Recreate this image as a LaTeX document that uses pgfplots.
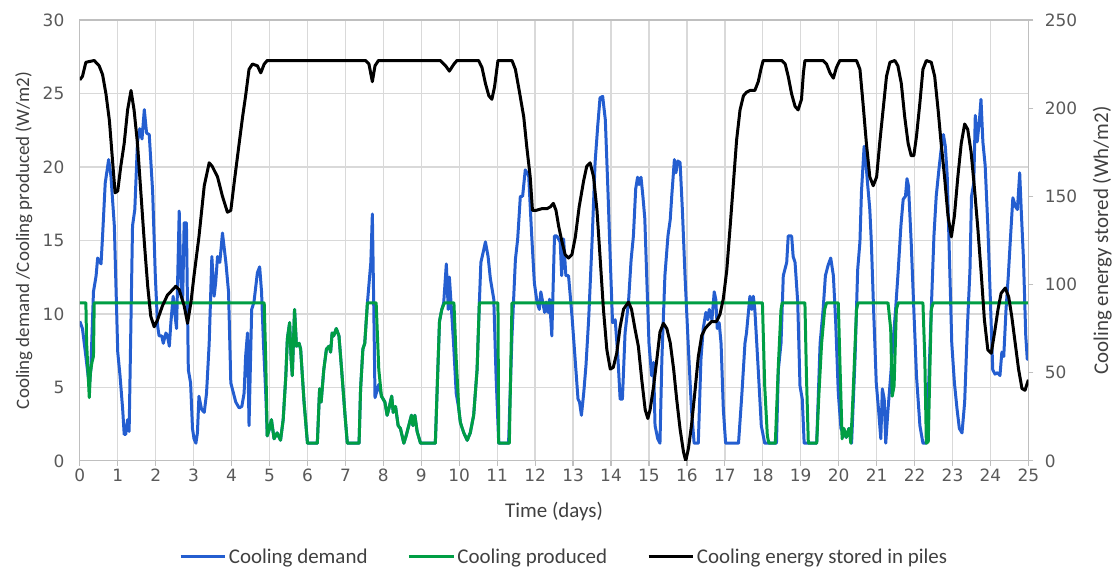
\documentclass[border=0pt]{standalone}
\usepackage{pgfplots}
\pgfplotsset{compat=1.18}
\usepackage{pgfplotstable}
\usepackage{fontspec}
\setmainfont{Carlito}
\newfontfamily\tickfont{DejaVu Sans}
\definecolor{dblue}{RGB}{36,94,208}
\definecolor{dgreen}{RGB}{0,158,68}
\definecolor{gridgray}{RGB}{217,217,217}
\definecolor{axgray}{RGB}{191,191,191}
\definecolor{txtgray}{RGB}{89,89,89}
\definecolor{lblgray}{RGB}{64,64,64}

\pgfplotstableread{
d v
0 9.5
0.07 9.0
0.16 7.1
0.25 5.1
0.29 6.2
0.36 11.5
0.43 12.6
0.47 13.8
0.56 13.4
0.60 15.3
0.67 18.9
0.76 20.5
0.82 19.4
0.91 16.0
1.00 7.4
1.06 5.8
1.13 3.5
1.17 1.8
1.21 1.8
1.26 2.8
1.30 2.0
1.39 16.0
1.45 17.1
1.52 21.7
1.58 22.6
1.64 21.9
1.70 23.9
1.76 22.3
1.83 22.2
1.92 18.3
1.99 12.6
2.05 9.2
2.09 8.5
2.16 8.5
2.20 8.0
2.27 8.7
2.31 8.5
2.36 7.8
2.40 9.4
2.46 11.2
2.51 9.9
2.55 9.0
2.62 17.0
2.66 12.6
2.71 10.8
2.75 16.2
2.81 16.2
2.86 6.2
2.92 5.3
2.97 2.2
3.01 1.5
3.06 1.2
3.10 1.9
3.14 4.4
3.21 3.5
3.28 3.3
3.34 4.6
3.41 8.0
3.48 13.9
3.54 11.2
3.58 12.1
3.63 13.9
3.69 13.5
3.76 15.5
3.85 13.5
3.92 11.5
3.98 5.3
4.02 4.9
4.11 4.0
4.20 3.6
4.27 3.7
4.33 4.6
4.37 7.1
4.42 8.7
4.46 2.4
4.53 10.3
4.59 10.8
4.68 12.8
4.74 13.2
4.79 11.5
4.84 8.0
4.90 4.6
4.94 1.7
5.00 2.2
5.05 2.8
5.12 1.5
5.20 1.9
5.29 1.4
5.36 2.8
5.43 5.8
5.47 8.3
5.53 9.4
5.57 6.9
5.60 5.8
5.66 10.3
5.71 7.8
5.78 8.0
5.82 7.6
5.91 4.0
6.00 1.2
6.26 1.2
6.32 4.9
6.36 4.0
6.43 6.2
6.50 7.6
6.57 7.8
6.61 7.4
6.65 8.7
6.69 8.5
6.76 9.0
6.83 8.5
6.90 6.2
6.99 3.1
7.05 1.2
7.36 1.2
7.40 4.9
7.46 7.6
7.51 8.0
7.58 10.75
7.62 12.0
7.67 13.5
7.71 16.8
7.75 10.0
7.78 4.3
7.88 5.2
7.95 4.4
8.04 4.0
8.10 3.1
8.16 3.7
8.22 4.4
8.26 3.3
8.32 3.7
8.39 2.4
8.45 2.2
8.54 1.2
8.60 1.7
8.69 2.6
8.74 3.1
8.78 2.4
8.83 3.1
8.89 2.0
8.98 1.2
9.37 1.2
9.43 5.8
9.48 9.5
9.54 10.3
9.59 10.75
9.66 13.4
9.71 10.3
9.74 12.5
9.79 10.5
9.85 8.0
9.92 4.6
9.99 3.5
10.03 2.6
10.12 1.9
10.21 1.4
10.29 1.9
10.38 3.1
10.47 6.2
10.53 10.75
10.57 13.5
10.64 14.3
10.69 14.9
10.76 13.9
10.82 12.4
10.91 11.0
10.97 5.8
11.04 1.2
11.30 1.2
11.39 8.5
11.48 13.7
11.54 15.1
11.61 18.0
11.67 18.0
11.74 19.8
11.83 19.4
11.91 15.3
11.98 12.1
12.05 10.8
12.11 10.3
12.15 11.5
12.20 10.8
12.25 10.1
12.29 10.8
12.34 10.1
12.38 11.0
12.44 8.5
12.51 15.3
12.57 15.3
12.66 14.9
12.70 12.6
12.75 15.1
12.81 12.6
12.88 12.6
12.97 9.9
13.06 6.7
13.13 4.2
13.17 4.0
13.22 3.1
13.28 4.6
13.34 6.5
13.41 9.6
13.50 14.9
13.58 20.3
13.65 22.8
13.71 24.7
13.78 24.8
13.85 23.2
13.92 18.3
13.98 13.7
14.04 9.4
14.11 9.6
14.18 7.1
14.24 4.2
14.30 4.2
14.37 8.7
14.46 10.8
14.53 13.7
14.59 15.3
14.65 18.5
14.70 19.3
14.74 18.8
14.79 19.3
14.84 18.0
14.89 16.5
14.94 12.6
15.00 8.0
15.07 5.8
15.12 6.7
15.16 2.4
15.23 1.5
15.29 1.2
15.34 6.9
15.42 12.6
15.50 15.3
15.56 16.4
15.60 18.0
15.67 20.5
15.71 19.6
15.76 20.4
15.82 20.3
15.88 17.1
15.95 12.6
16.04 7.6
16.12 3.5
16.19 1.2
16.30 1.2
16.37 6.9
16.43 9.0
16.50 10.1
16.55 9.6
16.59 10.3
16.66 9.6
16.72 11.5
16.76 11.0
16.80 9.0
16.85 9.4
16.90 8.0
16.96 3.5
17.02 1.2
17.36 1.2
17.45 4.6
17.53 8.0
17.57 8.7
17.66 11.2
17.71 10.3
17.75 11.2
17.79 10.3
17.88 6.2
17.96 2.4
18.05 1.2
18.36 1.2
18.41 6.2
18.48 8.0
18.54 12.6
18.63 13.5
18.67 15.3
18.76 15.3
18.80 13.9
18.85 13.5
18.92 10.8
18.98 5.1
19.04 4.2
19.09 1.2
19.42 1.2
19.51 8.0
19.59 10.3
19.65 12.6
19.72 13.3
19.79 13.8
19.86 12.6
19.92 9.5
19.99 4.6
20.06 2.2
20.14 1.8
20.20 1.6
20.27 2.2
20.34 1.2
20.43 6.9
20.50 13.0
20.56 14.9
20.60 18.3
20.67 21.4
20.71 20.5
20.76 18.9
20.82 17.1
20.86 14.9
20.92 10.3
20.99 5.3
21.05 3.5
21.11 1.5
21.15 4.9
21.20 4.2
21.24 1.2
21.30 3.5
21.37 5.8
21.43 8.0
21.50 10.3
21.57 13.0
21.64 16.0
21.70 17.8
21.76 18.0
21.80 19.2
21.84 18.7
21.91 14.9
21.98 10.3
22.05 5.8
22.14 2.4
22.22 1.2
22.31 1.2
22.38 5.8
22.44 10.3
22.51 15.3
22.57 18.0
22.64 19.8
22.70 21.2
22.76 22.2
22.81 21.4
22.86 19.4
22.92 13.7
22.98 8.0
23.05 5.3
23.12 3.5
23.18 2.2
23.25 1.9
23.32 4.0
23.39 9.0
23.46 13.0
23.50 18.0
23.56 18.9
23.60 23.5
23.65 21.7
23.71 23.2
23.75 24.6
23.80 21.7
23.86 20.1
23.93 16.0
23.99 11.5
24.06 6.2
24.12 5.9
24.19 6.0
24.25 5.8
24.30 7.4
24.35 7.1
24.41 10.3
24.47 12.6
24.53 15.3
24.59 17.9
24.66 17.3
24.71 17.1
24.77 19.6
24.81 17.1
24.87 13.7
24.93 8.5
24.97 6.9
25.00 8.0
}\demand

\pgfplotstableread{
d v
0 10.75
0.16 10.75
0.18 8.0
0.25 4.3
0.28 6.0
0.32 6.7
0.36 7.1
0.38 10.75
4.86 10.75
4.90 6.9
4.94 1.7
5.00 2.2
5.05 2.8
5.12 1.5
5.20 1.9
5.29 1.4
5.36 2.8
5.43 5.8
5.47 8.3
5.53 9.4
5.57 6.9
5.60 5.8
5.66 10.3
5.71 7.8
5.78 8.0
5.82 7.6
5.91 4.0
6.00 1.2
6.26 1.2
6.32 4.9
6.36 4.0
6.43 6.2
6.50 7.6
6.57 7.8
6.61 7.4
6.65 8.7
6.69 8.5
6.76 9.0
6.83 8.5
6.90 6.2
6.99 3.1
7.05 1.2
7.36 1.2
7.40 4.9
7.46 7.6
7.51 8.0
7.58 10.75
7.81 10.75
7.88 6.2
7.95 4.4
8.04 4.0
8.10 3.1
8.16 3.7
8.22 4.4
8.26 3.3
8.32 3.7
8.39 2.4
8.45 2.2
8.54 1.2
8.60 1.7
8.69 2.6
8.74 3.1
8.78 2.4
8.83 3.1
8.89 2.0
8.98 1.2
9.37 1.2
9.43 5.8
9.48 9.5
9.54 10.3
9.61 10.75
9.86 10.75
9.92 6.9
9.99 3.5
10.03 2.6
10.12 1.9
10.21 1.4
10.29 1.9
10.38 3.1
10.47 6.2
10.53 10.75
11.02 10.75
11.04 1.2
11.32 1.2
11.39 10.75
17.99 10.75
18.05 5.1
18.12 1.7
18.16 1.2
18.33 1.2
18.41 6.5
18.48 10.3
18.51 10.75
19.11 10.75
19.15 5.8
19.20 1.2
19.42 1.2
19.48 4.6
19.55 8.0
19.63 10.3
19.68 10.75
19.99 10.75
20.03 6.9
20.09 1.5
20.14 2.2
20.20 1.6
20.27 2.2
20.32 1.2
20.38 4.6
20.47 10.3
20.51 10.75
21.30 10.75
21.37 9.0
21.41 4.4
21.46 5.1
21.52 10.3
21.57 10.75
22.22 10.75
22.27 6.9
22.31 1.2
22.36 1.3
22.40 5.8
22.44 10.3
22.49 10.75
25.00 10.75
}\produced

\pgfplotstableread{
d v
0 216
0.07 218
0.16 226
0.38 227
0.51 224
0.60 219
0.69 208
0.78 193
0.86 171
0.93 152
1.00 153
1.08 167
1.17 180
1.26 199
1.35 210
1.43 199
1.52 180
1.61 152
1.70 124
1.79 99
1.87 82
1.96 76
2.05 80
2.18 88
2.31 94
2.40 96
2.53 99
2.62 97
2.75 88
2.84 78
2.93 90
3.01 105
3.14 127
3.28 156
3.41 169
3.49 167
3.63 161
3.76 150
3.89 141
3.98 142
4.07 158
4.20 180
4.29 195
4.37 207
4.46 222
4.55 225
4.68 224
4.77 220
4.86 225
4.94 227
7.53 227
7.62 225
7.71 215
7.78 224
7.87 227
9.50 227
9.64 224
9.74 221
9.86 225
9.94 227
10.51 227
10.60 223
10.69 214
10.78 207
10.86 205
10.93 212
11.02 227
11.39 227
11.48 222
11.58 210
11.70 195
11.78 178
11.87 161
11.93 142
12.02 142
12.18 143
12.31 143
12.40 144
12.48 146
12.55 142
12.62 133
12.71 124
12.79 117
12.88 115
12.97 117
13.06 127
13.16 144
13.28 159
13.36 167
13.45 169
13.54 161
13.63 142
13.71 116
13.80 86
13.89 63
13.98 52
14.06 53
14.15 61
14.24 76
14.33 86
14.46 90
14.54 86
14.63 75
14.72 65
14.81 46
14.90 29
14.97 24
15.03 29
15.12 42
15.21 58
15.29 73
15.38 78
15.47 75
15.56 67
15.65 52
15.73 35
15.82 18
15.91 5
15.97 0
16.04 7
16.12 20
16.21 39
16.30 59
16.39 71
16.48 75
16.56 77
16.65 79
16.78 79
16.87 83
16.96 92
17.05 108
17.14 133
17.22 156
17.31 182
17.40 199
17.49 207
17.57 209
17.66 210
17.79 210
17.88 215
17.95 222
18.01 227
18.50 227
18.59 225
18.67 218
18.76 208
18.85 201
18.93 199
19.02 205
19.07 220
19.11 227
19.59 227
19.68 225
19.77 220
19.86 217
19.94 223
20.03 227
20.47 227
20.56 222
20.64 203
20.73 180
20.82 161
20.91 156
21.00 161
21.08 180
21.17 199
21.26 218
21.35 226
21.48 227
21.56 224
21.65 214
21.74 195
21.83 180
21.91 173
21.98 173
22.05 184
22.14 203
22.22 222
22.31 227
22.44 226
22.53 218
22.62 199
22.70 180
22.79 161
22.88 139
22.97 127
23.05 139
23.14 161
23.23 180
23.32 191
23.40 188
23.49 175
23.58 154
23.67 131
23.76 105
23.84 80
23.93 63
24.02 61
24.11 73
24.20 86
24.28 95
24.39 98
24.48 93
24.56 82
24.65 67
24.74 52
24.83 41
24.91 40
25.00 46
}\stored

\begin{document}
\begin{tikzpicture}
\pgfplotsset{
  common/.style={
    at={(0pt,0pt)}, anchor=south west,
    scale only axis, width=951pt, height=442pt,
    xmin=0, xmax=25,
    /pgf/number format/assume math mode=true,
    tick label style={font=\tickfont\fontsize{17}{19}\selectfont, text=txtgray},
    tick align=outside,
    major tick length=5pt,
    tick style={axgray, line width=1.2pt},
  }
}
\begin{axis}[common,
  ymin=0, ymax=30,
  xtick={0,1,...,25}, ytick={0,5,...,30},
  xtick pos=bottom, ytick pos=left,
  ytick style={draw=none},
  yticklabel style={xshift=-7pt},
  grid=major, major grid style={gridgray, line width=1.3pt},
  axis line style={axgray, line width=1.3pt},
  xlabel={Time (days)},
  xlabel style={at={(axis description cs:0.5,-0.1154)}, anchor=center, font=\fontsize{21}{24}\selectfont, text=lblgray},
  ylabel={Cooling demand /Cooling produced (W/m2)},
  ylabel style={at={(axis description cs:-0.0589,0.5)}, anchor=center, font=\fontsize{19}{22}\selectfont, text=lblgray},
]
\addplot[dblue, line width=3pt, line join=round] table[x=d, y=v] {\demand};
\addplot[dgreen, line width=3pt, line join=round] table[x=d, y=v] {\produced};
\end{axis}
\begin{axis}[common,
  ymin=0, ymax=250,
  ytick={0,50,...,250},
  axis x line=none,
  axis y line*=right,
  yticklabel style={xshift=8pt},
  axis line style={axgray, line width=1.3pt},
  ylabel={Cooling energy stored (Wh/m2)},
  ylabel style={at={(axis description cs:1.0778,0.5)}, anchor=center, font=\fontsize{21}{24}\selectfont, text=lblgray},
  legend columns=3,
  legend style={at={(axis description cs:0.5105,-0.217)}, anchor=center, draw=none, fill=none,
    font=\fontsize{21}{24}\selectfont, text=lblgray,
    /tikz/every even column/.append style={column sep=38pt},
    /tikz/every odd column/.append style={column sep=0pt}},
  legend image code/.code={\draw[#1, line width=3pt] (0pt,0pt) -- (45pt,0pt);},
]
\addlegendimage{dblue}
\addlegendentry{Cooling demand}
\addlegendimage{dgreen}
\addlegendentry{Cooling produced}
\addplot[black, line width=3pt, line join=round] table[x=d, y=v] {\stored};
\addlegendentry{Cooling energy stored in piles}
\end{axis}
\path (-80pt,-108pt) rectangle (1035pt,462pt);
\end{tikzpicture}
\end{document}
